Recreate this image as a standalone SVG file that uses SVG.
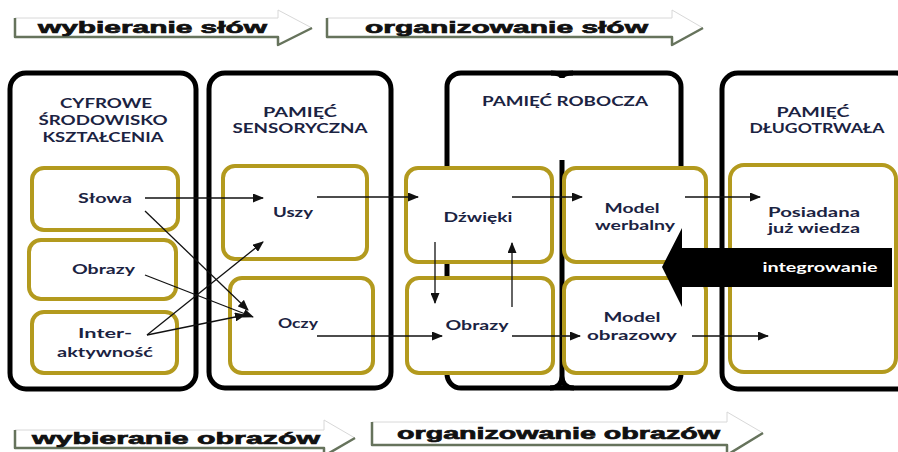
<svg xmlns="http://www.w3.org/2000/svg" width="898" height="452" viewBox="0 0 898 452">
<style>
.col{fill:#fff;stroke:#000;stroke-width:5}
.ln{fill:none;stroke:#000;stroke-width:5}
.box{fill:#fff;stroke:#b39a1e;stroke-width:4}
.hd{font-family:Lato,"Liberation Sans",sans-serif;font-weight:bold;font-size:13.5px;fill:#1b2342;text-anchor:middle}
.nt{font-family:Lato,"Liberation Sans",sans-serif;font-weight:bold;font-size:14px;fill:#1b2342;text-anchor:middle}
.bn{font-family:"Liberation Sans",Arial,sans-serif;font-weight:bold;font-size:17px;fill:#111;stroke:#111;stroke-width:0.7;text-anchor:middle}
.bf{fill:#fff;stroke:#d8d8d8;stroke-width:1}
.bs{fill:none;stroke:#66735c;stroke-width:2.5;stroke-linejoin:round}
.cn{stroke:#111;stroke-width:1.3;fill:none;marker-end:url(#ah)}
</style>
<defs>
<marker id="ah" markerUnits="userSpaceOnUse" markerWidth="11" markerHeight="9" refX="10" refY="4.5" orient="auto">
<path d="M0,0 L11,4.5 L0,9 z" fill="#111"/>
</marker>
</defs>
<rect width="898" height="452" fill="#fff"/>

<g id="banners">
<g id="b1">
<polygon class="bf" points="15,18 278,18 278,10 312,28 278,45 278,37 15,37"/>
<polyline class="bs" points="15,18 15,37 278,37 278,45 312,28"/>
<text class="bn" x="152.5" y="33" textLength="229" lengthAdjust="spacingAndGlyphs">wybieranie słów</text>
</g>
<g id="b2">
<polygon class="bf" points="327,18 672,18 672,10 703,28 672,45 672,37 327,37"/>
<polyline class="bs" points="327,18 327,37 672,37 672,45 703,28"/>
<text class="bn" x="506.5" y="33" textLength="283" lengthAdjust="spacingAndGlyphs">organizowanie słów</text>
</g>
<g id="b3">
<polygon class="bf" points="15,430 324,430 324,420 355,438 324,456 324,448 15,448"/>
<polyline class="bs" points="15,430 15,448 324,448 324,456 355,438"/>
<text class="bn" x="176" y="444" textLength="288" lengthAdjust="spacingAndGlyphs">wybieranie obrazów</text>
</g>
<g id="b4">
<polygon class="bf" points="372,422 727,422 727,412 763,433 727,455 727,445 372,445"/>
<polyline class="bs" points="372,422 372,445 727,445 727,455 763,433"/>
<text class="bn" x="558.5" y="439" textLength="323" lengthAdjust="spacingAndGlyphs">organizowanie obrazów</text>
</g>
</g>

<g id="col-cyfrowe">
<rect class="col" x="10" y="73" width="186" height="316" rx="16"/>
<text class="hd" x="106" y="108" textLength="92" lengthAdjust="spacingAndGlyphs">CYFROWE</text>
<text class="hd" x="103" y="125" textLength="129" lengthAdjust="spacingAndGlyphs">ŚRODOWISKO</text>
<text class="hd" x="103" y="142" textLength="121" lengthAdjust="spacingAndGlyphs">KSZTAŁCENIA</text>
</g>
<g id="col-sensoryczna">
<rect class="col" x="209" y="73" width="182" height="315" rx="16"/>
<text class="hd" x="300" y="117" textLength="74" lengthAdjust="spacingAndGlyphs">PAMIĘĆ</text>
<text class="hd" x="300" y="133" textLength="135" lengthAdjust="spacingAndGlyphs">SENSORYCZNA</text>
</g>
<g id="col-robocza">
<rect class="col" x="447" y="73" width="234" height="315" rx="14"/>
<path class="ln" d="M551,73 Q562,73 562,78 Q562,73 573,73"/>
<path class="ln" d="M562,160 L562,376 Q562,388 550,388 M562,376 Q562,388 574,388"/>
<text class="hd" x="565" y="106" textLength="166" lengthAdjust="spacingAndGlyphs">PAMIĘĆ ROBOCZA</text>
</g>
<g id="col-dlugotrwala">
<rect class="col" x="722" y="73" width="190" height="316" rx="16"/>
<text class="hd" x="813" y="117" textLength="73" lengthAdjust="spacingAndGlyphs">PAMIĘĆ</text>
<text class="hd" x="817" y="133" textLength="135" lengthAdjust="spacingAndGlyphs">DŁUGOTRWAŁA</text>
</g>

<g id="n-slowa">
<rect class="box" x="32" y="168" width="146" height="62" rx="12"/>
<text class="nt" x="105" y="203" textLength="54" lengthAdjust="spacingAndGlyphs">Słowa</text>
</g>
<g id="n-obrazy1">
<rect class="box" x="29" y="240" width="147" height="59" rx="12"/>
<text class="nt" x="103.5" y="274" textLength="63" lengthAdjust="spacingAndGlyphs">Obrazy</text>
</g>
<g id="n-inter">
<rect class="box" x="32" y="312" width="145" height="61" rx="12"/>
<text class="nt" x="105" y="338" textLength="54" lengthAdjust="spacingAndGlyphs">Inter-</text>
<text class="nt" x="105" y="357" textLength="96" lengthAdjust="spacingAndGlyphs">aktywność</text>
</g>
<g id="n-uszy">
<rect class="box" x="223" y="166" width="144" height="93" rx="12"/>
<text class="nt" x="293" y="217" textLength="40" lengthAdjust="spacingAndGlyphs">Uszy</text>
</g>
<g id="n-oczy">
<rect class="box" x="230" y="278" width="143" height="95" rx="12"/>
<text class="nt" x="298" y="328" textLength="40" lengthAdjust="spacingAndGlyphs">Oczy</text>
</g>
<g id="n-dzwieki">
<rect class="box" x="406" y="168" width="146" height="94" rx="12"/>
<text class="nt" x="478" y="222" textLength="69" lengthAdjust="spacingAndGlyphs">Dźwięki</text>
</g>
<g id="n-obrazy2">
<rect class="box" x="407" y="278" width="146" height="95" rx="12"/>
<text class="nt" x="477" y="330" textLength="63" lengthAdjust="spacingAndGlyphs">Obrazy</text>
</g>
<g id="n-werbalny">
<rect class="box" x="564" y="168" width="142" height="94" rx="12"/>
<text class="nt" x="632" y="213" textLength="55" lengthAdjust="spacingAndGlyphs">Model</text>
<text class="nt" x="635" y="230" textLength="80" lengthAdjust="spacingAndGlyphs">werbalny</text>
</g>
<g id="n-obrazowy">
<rect class="box" x="564" y="278" width="142" height="95" rx="12"/>
<text class="nt" x="632" y="322" textLength="57" lengthAdjust="spacingAndGlyphs">Model</text>
<text class="nt" x="632" y="340" textLength="90" lengthAdjust="spacingAndGlyphs">obrazowy</text>
</g>
<g id="n-wiedza">
<rect class="box" x="730" y="165" width="166" height="207" rx="14"/>
<text class="nt" x="814" y="217" textLength="92" lengthAdjust="spacingAndGlyphs">Posiadana</text>
<text class="nt" x="814" y="233" textLength="92" lengthAdjust="spacingAndGlyphs">już wiedza</text>
</g>

<g id="connectors">
<line class="cn" x1="145" y1="198" x2="263" y2="198"/>
<line class="cn" x1="145" y1="211" x2="248" y2="310"/>
<line class="cn" x1="145" y1="275" x2="253" y2="317"/>
<line class="cn" x1="147" y1="335" x2="263" y2="242"/>
<line class="cn" x1="147" y1="335" x2="245" y2="315"/>
<line class="cn" x1="317" y1="197" x2="418" y2="197"/>
<line class="cn" x1="317" y1="336" x2="442" y2="336"/>
<line class="cn" x1="435" y1="242" x2="435" y2="303"/>
<line class="cn" x1="512" y1="307" x2="512" y2="243"/>
<line class="cn" x1="512" y1="197" x2="582" y2="197"/>
<line class="cn" x1="512" y1="336" x2="580" y2="336"/>
<line class="cn" x1="685" y1="197" x2="760" y2="197"/>
<line class="cn" x1="692" y1="336" x2="768" y2="336"/>
</g>

<g id="integrowanie">
<polygon points="662,267 682,228 682,248 892,248 892,287 682,287 682,307" fill="#000"/>
<text x="820" y="272" textLength="115" lengthAdjust="spacingAndGlyphs" style="font-family:Lato,'Liberation Sans',sans-serif;font-weight:bold;font-size:14px;fill:#fff;text-anchor:middle">integrowanie</text>
</g>
</svg>
